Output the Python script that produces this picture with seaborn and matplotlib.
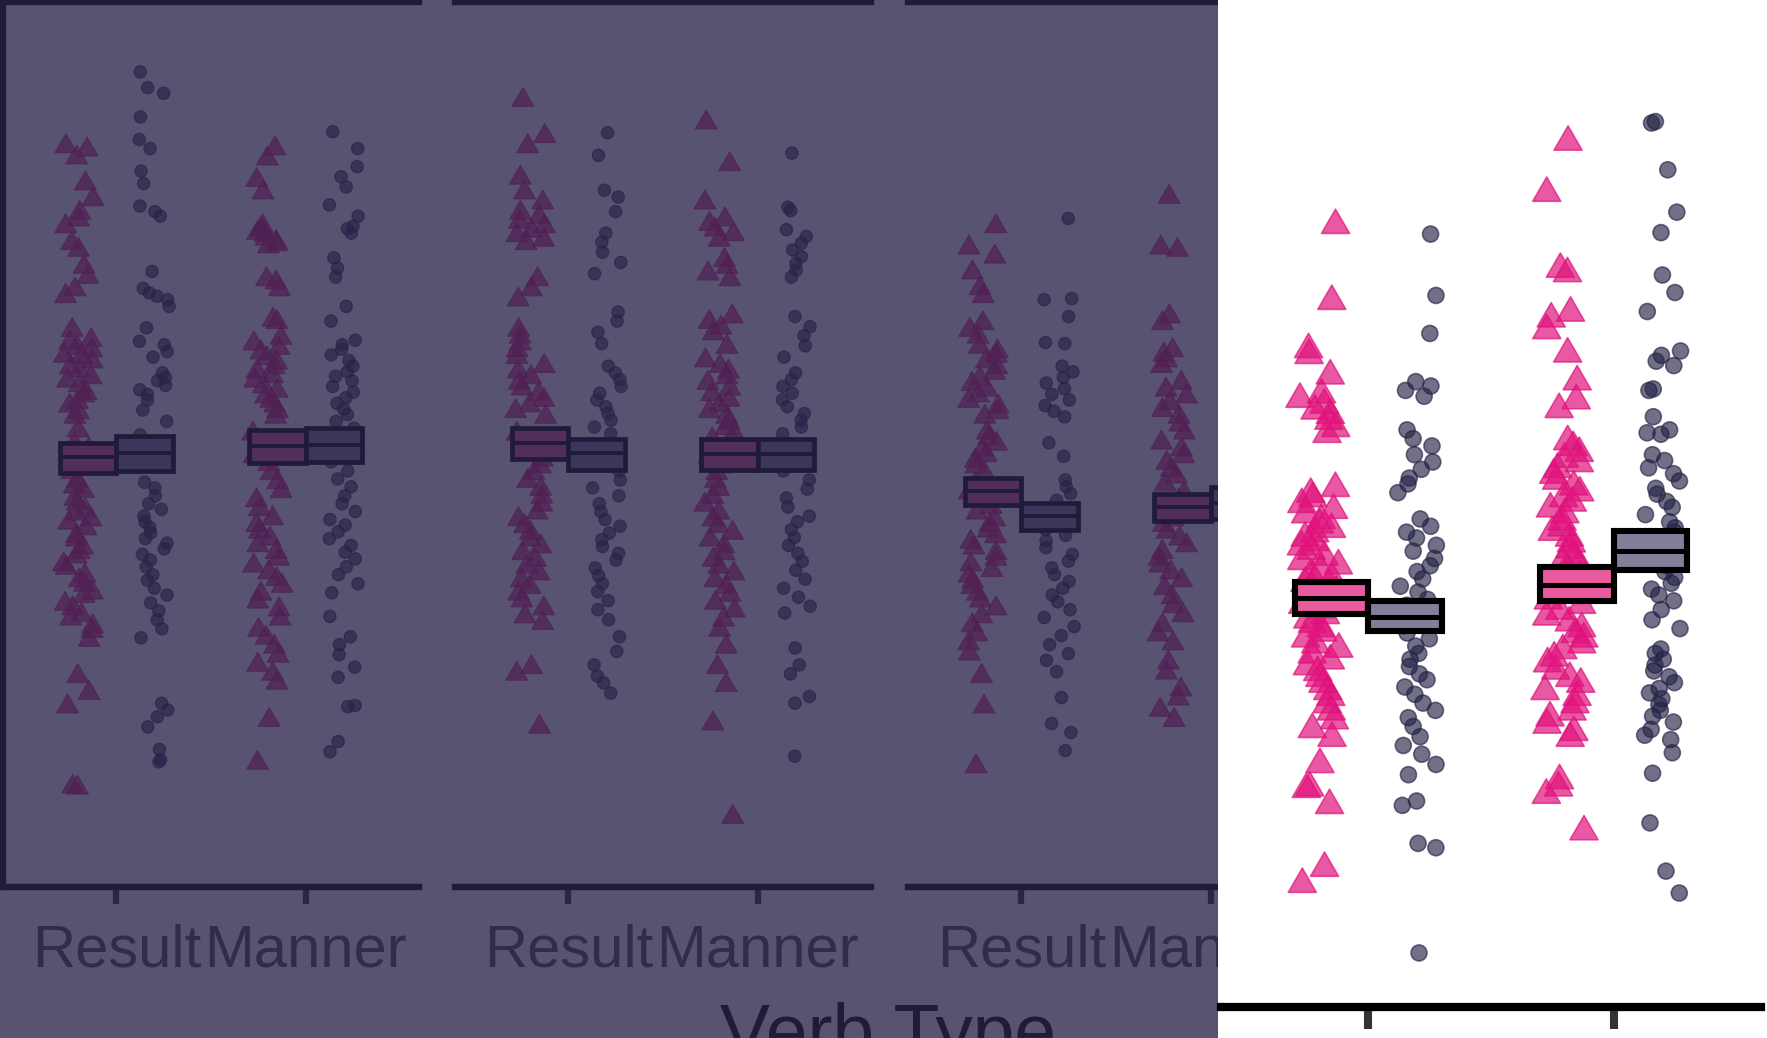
import numpy as np
import pandas as pd
import matplotlib
matplotlib.use("Agg")
import matplotlib.pyplot as plt
import seaborn as sns
from matplotlib.path import Path
from matplotlib.patches import Rectangle

# ---------------- data ----------------
verb_types = ["Result", "Manner"]
groups = ["Group A", "Group B"]          # A = triangles, B = circles
facets = ["Panel 1", "Panel 2", "Panel 3", "Panel 4"]
x_label = "Verb Type"

p1_result_a = [6.57, 6.54, 6.47, 6.24, 6.10, 5.98, 5.92, 5.86, 5.71, 5.65, 5.50, 5.41, 5.30, 5.24, 4.94, 4.85, 4.83, 4.78, 4.76, 4.71, 4.70, 4.66, 4.61, 4.58, 4.52, 4.49, 4.45, 4.38, 4.36, 4.30, 4.27, 4.21, 4.17, 4.05, 3.93, 3.88, 3.83, 3.79, 3.71, 3.68, 3.60, 3.55, 3.51, 3.44, 3.40, 3.34, 3.31, 3.26, 3.23, 3.18, 3.11, 3.08, 3.01, 2.97, 2.93, 2.86, 2.83, 2.76, 2.72, 2.68, 2.61, 2.58, 2.51, 2.47, 2.41, 2.38, 2.31, 2.27, 2.19, 1.87, 1.72, 1.60, 0.89, 0.88]
p1_result_b = [7.23, 7.09, 7.04, 6.83, 6.63, 6.55, 6.35, 6.24, 6.04, 5.99, 5.95, 5.46, 5.31, 5.27, 5.24, 5.21, 5.15, 4.96, 4.84, 4.81, 4.75, 4.70, 4.56, 4.52, 4.49, 4.45, 4.41, 4.37, 4.32, 4.23, 4.13, 4.01, 3.95, 3.89, 3.82, 3.77, 3.59, 3.54, 3.47, 3.40, 3.35, 3.29, 3.24, 3.19, 3.14, 3.09, 3.05, 3.00, 2.95, 2.90, 2.84, 2.77, 2.72, 2.65, 2.59, 2.52, 2.45, 2.37, 2.29, 2.21, 1.63, 1.57, 1.51, 1.42, 1.22, 1.13, 1.11]
p1_manner_a = [6.55, 6.46, 6.27, 6.16, 5.86, 5.83, 5.80, 5.78, 5.75, 5.72, 5.70, 5.68, 5.39, 5.36, 5.30, 5.03, 5.01, 4.87, 4.82, 4.78, 4.74, 4.69, 4.65, 4.61, 4.57, 4.53, 4.49, 4.44, 4.40, 4.35, 4.31, 4.27, 4.22, 4.17, 4.02, 3.95, 3.89, 3.82, 3.75, 3.67, 3.59, 3.51, 3.43, 3.35, 3.27, 3.21, 3.15, 3.09, 3.03, 2.97, 2.91, 2.85, 2.79, 2.73, 2.67, 2.60, 2.53, 2.46, 2.38, 2.28, 2.21, 2.13, 2.05, 1.97, 1.89, 1.81, 1.48, 1.10]
p1_manner_b = [6.70, 6.55, 6.39, 6.30, 6.21, 6.05, 5.95, 5.86, 5.84, 5.80, 5.58, 5.49, 5.41, 5.15, 5.02, 4.85, 4.81, 4.77, 4.72, 4.67, 4.62, 4.57, 4.53, 4.49, 4.44, 4.39, 4.34, 4.29, 4.24, 4.19, 4.13, 4.07, 3.99, 3.92, 3.85, 3.77, 3.69, 3.62, 3.55, 3.47, 3.40, 3.33, 3.26, 3.21, 3.15, 3.09, 3.03, 2.97, 2.91, 2.84, 2.77, 2.69, 2.61, 2.40, 2.22, 2.15, 2.06, 1.95, 1.86, 1.61, 1.60, 1.29, 1.20]

p2_result_a = [6.98, 6.66, 6.57, 6.29, 6.16, 6.07, 5.98, 5.94, 5.90, 5.86, 5.82, 5.78, 5.74, 5.71, 5.39, 5.30, 5.21, 4.94, 4.88, 4.82, 4.76, 4.70, 4.62, 4.57, 4.52, 4.47, 4.42, 4.37, 4.32, 4.27, 4.22, 4.17, 4.02, 3.95, 3.87, 3.79, 3.73, 3.67, 3.60, 3.53, 3.46, 3.39, 3.32, 3.26, 3.20, 3.14, 3.08, 3.02, 2.96, 2.90, 2.84, 2.78, 2.72, 2.66, 2.60, 2.54, 2.47, 2.40, 2.34, 1.95, 1.89, 1.42]
p2_result_b = [6.69, 6.49, 6.18, 6.12, 5.99, 5.80, 5.72, 5.63, 5.54, 5.44, 5.10, 5.02, 4.92, 4.82, 4.62, 4.56, 4.50, 4.44, 4.38, 4.32, 4.26, 4.20, 4.14, 4.08, 4.02, 3.92, 3.85, 3.77, 3.69, 3.61, 3.54, 3.47, 3.40, 3.33, 3.26, 3.20, 3.14, 3.08, 3.02, 2.96, 2.90, 2.83, 2.76, 2.69, 2.62, 2.54, 2.46, 2.37, 2.22, 2.09, 1.97, 1.87, 1.81, 1.72]
p2_manner_a = [6.78, 6.41, 6.07, 5.92, 5.88, 5.83, 5.79, 5.74, 5.56, 5.50, 5.44, 5.39, 5.06, 5.01, 4.96, 4.91, 4.79, 4.67, 4.62, 4.57, 4.52, 4.47, 4.42, 4.37, 4.32, 4.27, 4.22, 4.17, 4.12, 4.07, 4.02, 3.97, 3.89, 3.82, 3.73, 3.67, 3.60, 3.53, 3.46, 3.39, 3.32, 3.26, 3.20, 3.14, 3.08, 3.02, 2.96, 2.90, 2.84, 2.78, 2.72, 2.66, 2.59, 2.52, 2.45, 2.37, 2.28, 2.13, 1.95, 1.79, 1.45, 0.62]
p2_manner_b = [6.51, 6.03, 6.00, 5.83, 5.77, 5.71, 5.65, 5.59, 5.53, 5.47, 5.41, 5.06, 4.97, 4.89, 4.80, 4.70, 4.56, 4.50, 4.44, 4.38, 4.32, 4.26, 4.20, 4.14, 4.08, 4.02, 3.89, 3.82, 3.77, 3.69, 3.61, 3.53, 3.45, 3.37, 3.29, 3.24, 3.17, 3.10, 3.03, 2.96, 2.89, 2.81, 2.73, 2.65, 2.57, 2.49, 2.43, 2.12, 1.97, 1.89, 1.69, 1.63, 1.16]

p3_result_a = [5.86, 5.67, 5.59, 5.45, 5.31, 5.24, 5.00, 4.94, 4.88, 4.79, 4.75, 4.71, 4.66, 4.61, 4.56, 4.51, 4.46, 4.41, 4.36, 4.31, 4.26, 4.21, 4.17, 4.03, 3.98, 3.93, 3.88, 3.83, 3.78, 3.73, 3.67, 3.57, 3.50, 3.43, 3.37, 3.32, 3.26, 3.21, 3.16, 3.11, 3.06, 3.01, 2.96, 2.91, 2.86, 2.81, 2.76, 2.71, 2.66, 2.60, 2.54, 2.47, 2.40, 2.32, 2.24, 2.16, 2.07, 1.87, 1.60, 1.07]
p3_result_b = [5.93, 5.22, 5.21, 5.06, 4.83, 4.82, 4.62, 4.57, 4.52, 4.47, 4.42, 4.37, 4.32, 4.27, 4.22, 4.17, 3.94, 3.82, 3.61, 3.55, 3.49, 3.43, 3.35, 3.29, 3.23, 3.17, 3.12, 3.07, 3.01, 2.95, 2.89, 2.83, 2.77, 2.71, 2.65, 2.59, 2.53, 2.46, 2.39, 2.31, 2.23, 2.15, 2.07, 2.01, 1.91, 1.68, 1.45, 1.37, 1.21]
p3_manner_a = [6.12, 5.67, 5.65, 5.06, 5.00, 4.76, 4.72, 4.67, 4.62, 4.47, 4.41, 4.35, 4.29, 4.23, 4.17, 4.10, 4.03, 3.94, 3.88, 3.82, 3.76, 3.70, 3.64, 3.57, 3.49, 3.43, 3.37, 3.31, 3.26, 3.21, 3.15, 3.09, 3.03, 2.97, 2.91, 2.85, 2.79, 2.72, 2.65, 2.57, 2.49, 2.41, 2.32, 2.24, 2.16, 1.99, 1.90, 1.75, 1.67, 1.57, 1.48]
p3_manner_b = [5.55, 5.12, 4.86, 4.63, 4.41, 4.24, 4.05, 3.92, 3.71, 3.58, 3.43, 3.27, 3.14, 2.99, 2.83, 2.71, 2.52, 2.33, 2.08, 1.82, 1.46]

p4_result_a = [5.35, 4.83, 4.50, 4.46, 4.32, 4.19, 4.16, 4.12, 4.08, 4.05, 4.01, 3.96, 3.92, 3.55, 3.51, 3.48, 3.44, 3.40, 3.37, 3.33, 3.30, 3.27, 3.24, 3.21, 3.18, 3.15, 3.12, 3.08, 3.05, 3.02, 2.99, 2.96, 2.93, 2.90, 2.87, 2.84, 2.81, 2.78, 2.75, 2.72, 2.68, 2.65, 2.62, 2.59, 2.56, 2.52, 2.48, 2.45, 2.41, 2.37, 2.33, 2.29, 2.25, 2.21, 2.16, 2.12, 2.07, 2.02, 1.96, 1.90, 1.84, 1.66, 1.50, 1.49, 1.38, 0.95, 0.84]
p4_result_b = [5.29, 4.87, 4.61, 4.28, 4.25, 4.22, 4.18, 3.95, 3.89, 3.84, 3.78, 3.73, 3.68, 3.62, 3.58, 3.52, 3.34, 3.29, 3.25, 3.21, 3.16, 3.12, 3.07, 3.02, 2.98, 2.93, 2.88, 2.84, 2.79, 2.75, 2.70, 2.65, 2.61, 2.56, 2.52, 2.47, 2.42, 2.38, 2.33, 2.28, 2.24, 2.19, 2.14, 2.08, 2.03, 1.98, 1.92, 1.85, 1.79, 1.73, 1.66, 1.59, 1.41, 1.38, 1.12, 1.09, 0.37]
p4_manner_a = [5.92, 5.57, 5.05, 5.02, 4.75, 4.71, 4.63, 4.47, 4.28, 4.15, 4.09, 3.87, 3.83, 3.79, 3.75, 3.72, 3.68, 3.64, 3.60, 3.56, 3.52, 3.48, 3.45, 3.41, 3.37, 3.32, 3.28, 3.25, 3.21, 3.17, 3.13, 3.09, 3.05, 3.02, 2.98, 2.94, 2.90, 2.86, 2.82, 2.78, 2.75, 2.71, 2.67, 2.63, 2.59, 2.55, 2.52, 2.48, 2.44, 2.39, 2.35, 2.30, 2.25, 2.21, 2.16, 2.12, 2.07, 2.02, 1.98, 1.93, 1.88, 1.84, 1.55, 1.50, 1.45, 1.20]
p4_manner_b = [6.05, 6.06, 5.73, 5.44, 5.30, 5.01, 4.89, 4.76, 4.49, 4.46, 4.42, 4.39, 4.23, 4.22, 4.04, 3.95, 3.93, 3.92, 3.78, 3.74, 3.69, 3.65, 3.60, 3.55, 3.51, 3.46, 3.42, 3.37, 3.32, 3.28, 3.25, 3.21, 3.17, 3.13, 3.09, 3.05, 3.02, 2.98, 2.94, 2.90, 2.86, 2.82, 2.78, 2.72, 2.65, 2.59, 2.45, 2.42, 2.38, 2.34, 2.30, 2.26, 2.22, 2.18, 2.15, 2.11, 2.07, 2.03, 1.99, 1.95, 1.90, 1.86, 1.83, 1.74, 1.60, 1.26, 0.93, 0.78]

# crossbar summaries per facet: [Result, Manner]
a_mean = [[3.81, 3.91], [3.94, 3.84], [3.51, 3.37], [2.80, 2.89]]
a_low  = [[3.67, 3.76], [3.80, 3.70], [3.39, 3.25], [2.69, 2.78]]
a_high = [[3.94, 4.05], [4.07, 3.97], [3.63, 3.49], [2.91, 3.01]]
b_mean = [[3.85, 3.92], [3.85, 3.84], [3.29, 3.41], [2.67, 3.12]]
b_low  = [[3.69, 3.77], [3.70, 3.70], [3.17, 3.26], [2.57, 2.99]]
b_high = [[4.00, 4.07], [3.97, 3.97], [3.41, 3.55], [2.78, 3.26]]

y_ticks = [1.88, 3.94, 6.72]

strips = {
    ("Panel 1", "Result", "Group A"): p1_result_a, ("Panel 1", "Result", "Group B"): p1_result_b,
    ("Panel 1", "Manner", "Group A"): p1_manner_a, ("Panel 1", "Manner", "Group B"): p1_manner_b,
    ("Panel 2", "Result", "Group A"): p2_result_a, ("Panel 2", "Result", "Group B"): p2_result_b,
    ("Panel 2", "Manner", "Group A"): p2_manner_a, ("Panel 2", "Manner", "Group B"): p2_manner_b,
    ("Panel 3", "Result", "Group A"): p3_result_a, ("Panel 3", "Result", "Group B"): p3_result_b,
    ("Panel 3", "Manner", "Group A"): p3_manner_a, ("Panel 3", "Manner", "Group B"): p3_manner_b,
    ("Panel 4", "Result", "Group A"): p4_result_a, ("Panel 4", "Result", "Group B"): p4_result_b,
    ("Panel 4", "Manner", "Group A"): p4_manner_a, ("Panel 4", "Manner", "Group B"): p4_manner_b,
}
rows = []
for (f, v, g), vals in strips.items():
    for val in vals:
        rows.append({"facet": f, "verb": v, "group": g, "value": val})
data = pd.DataFrame(rows)

# ---------------- style ----------------
sns.set_style("white")
plt.rcParams["font.family"] = ["Liberation Sans", "DejaVu Sans"]
np.random.seed(7)

TRI = "#E0137C"
CIRC = "#262447"
point_colors = {groups[0]: TRI, groups[1]: CIRC}
box_colors = {groups[0]: "#E95A9E", groups[1]: "#837F9A"}
point_alpha = {groups[0]: 0.7, groups[1]: 0.65}
tri_path = Path([(0, 0.577), (-0.5, -0.289), (0.5, -0.289), (0, 0.577)], closed=True)
markers = {groups[0]: tri_path, groups[1]: "o"}
marker_sizes = {groups[0]: 18.0, groups[1]: 8.9}

W, H = 1767, 1038
fig = plt.figure(figsize=(W / 100, H / 100), dpi=100)


def add_axes_px(x0, y_top, w, h):
    return fig.add_axes([x0 / W, (H - (y_top + h)) / H, w / W, h / H])


def draw_panel(ax, k, s, show_left, show_labels=True):
    sub = data[data["facet"] == facets[k]]
    for g in groups:
        d = sub[sub["group"] == g]
        sns.stripplot(data=d, x="verb", y="value", hue="group", order=verb_types,
                      hue_order=groups, palette=point_colors, dodge=True, jitter=0.16,
                      marker=markers[g], size=marker_sizes[g] * s, linewidth=0.9 * s,
                      edgecolor=point_colors[g], alpha=point_alpha[g], legend=False,
                      ax=ax, zorder=2)
    stats = [(a_low, a_mean, a_high, -0.15, box_colors[groups[0]]),
             (b_low, b_mean, b_high, 0.15, box_colors[groups[1]])]
    for lo, mid, hi, off, fc in stats:
        xs = np.arange(len(verb_types)) + off
        ax.bar(xs, np.array(hi[k]) - np.array(lo[k]), bottom=lo[k], width=0.3,
               color=fc, edgecolor="black", linewidth=3.4 * s, zorder=4)
        ax.hlines(mid[k], xs - 0.15, xs + 0.15, color="black", linewidth=2.8 * s, zorder=5)
    ax.set_xlim(-0.6, 1.6)
    ax.set_ylim(0, 7.85)
    ax.set_xlabel("")
    ax.set_ylabel("")
    ax.set_facecolor("white")
    for side in ["top", "bottom", "left"]:
        ax.spines[side].set_linewidth(4.6 * s)
        ax.spines[side].set_color("black")
    ax.spines["right"].set_visible(False)
    ax.spines["left"].set_visible(show_left)
    ax.tick_params(axis="x", bottom=True, top=False, direction="out",
                   length=12.2 * s, width=4.5 * s, color="#333333",
                   labelsize=43 * s, labelcolor="#4D4D4D", pad=14 * s,
                   labelbottom=show_labels)
    ax.set_yticks(y_ticks)
    ax.set_yticklabels([""] * len(y_ticks))
    if show_left:
        ax.tick_params(axis="y", left=True, direction="out", length=12.2 * s,
                       width=3.0 * s, color="#555555")
    else:
        ax.tick_params(axis="y", left=False, labelleft=False)


left_x = [3, 455, 908]
for k in range(3):
    ax = add_axes_px(left_x[k], 2, 416, 885)
    draw_panel(ax, k, 1.0, show_left=(k == 0))

fig.text(888 / W, -18 / H, x_label, ha="center", va="baseline", fontsize=54,
         color="black", zorder=1)

# dark overlay on the left and white spotlight on the right
fig.add_artist(Rectangle((0, 0), 1218 / W, 1, transform=fig.transFigure,
                         facecolor=(40 / 255, 35 / 255, 72 / 255), alpha=0.78,
                         edgecolor="none", zorder=5))
fig.add_artist(Rectangle((1218 / W, 0), 1 - 1218 / W, 1, transform=fig.transFigure,
                         facecolor="white", edgecolor="none", zorder=6))

mag = 1.296
ax_r = add_axes_px(1221, 1007 - 885 * mag, 540, 885 * mag)
ax_r.set_zorder(10)
draw_panel(ax_r, 3, mag, show_left=False, show_labels=False)

fig.savefig("out.png", dpi=100)
